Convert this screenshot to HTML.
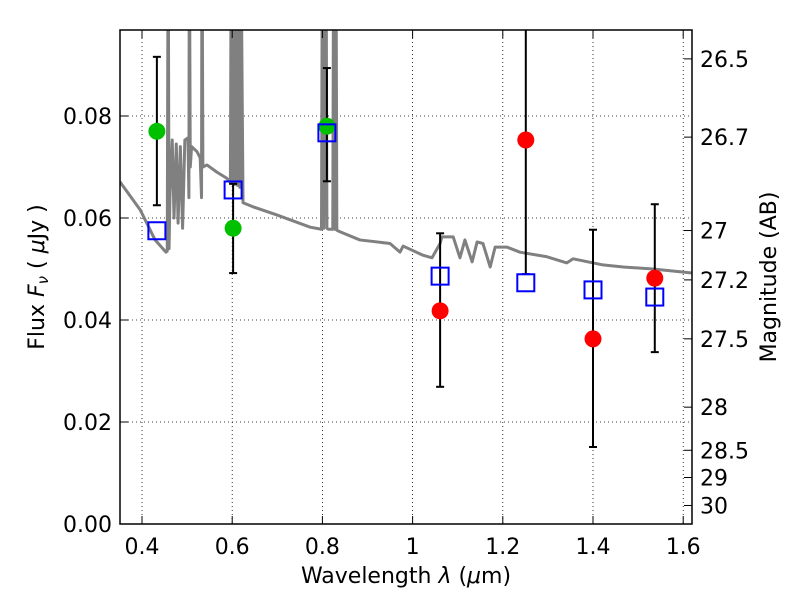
<!DOCTYPE html>
<html><head><meta charset="utf-8"><style>
body{margin:0;background:#fff;}
svg text{font-family:"DejaVu Sans","Liberation Sans",sans-serif;}
</style></head><body>
<svg id="c" width="800" height="600" xmlns="http://www.w3.org/2000/svg"></svg>
<script>
const xTicks=[0.4,0.6,0.8,1.0,1.2,1.4,1.6];
const xTickLabels=["0.4","0.6","0.8","1","1.2","1.4","1.6"];
const yTicks=[0,0.02,0.04,0.06,0.08];
const yTickLabels=["0.00","0.02","0.04","0.06","0.08"];
const magTicks=[26.5,26.7,27,27.2,27.5,28,28.5,29,30];
const magTickLabels=["26.5","26.7","27","27.2","27.5","28","28.5","29","30"];
const specLam=[0.351,0.396,0.429,0.453,0.456,0.458,0.460,0.462,0.467,0.471,0.476,0.480,0.485,0.490,0.495,0.502,0.504,0.505,0.507,0.510,0.522,0.529,0.532,0.533,0.535,0.544,0.566,0.588,0.596,0.598,0.600,0.604,0.606,0.609,0.612,0.615,0.617,0.619,0.624,0.646,0.699,0.773,0.798,0.800,0.803,0.808,0.810,0.813,0.823,0.825,0.828,0.830,0.832,0.839,0.883,0.950,0.972,0.979,1.023,1.043,1.061,1.065,1.090,1.105,1.116,1.132,1.143,1.156,1.172,1.183,1.209,1.238,1.298,1.342,1.356,1.422,1.467,1.533,1.622];
const specFlux=[0.0671,0.0616,0.0557,0.0533,0.0535,0.12,0.0540,0.0645,0.0753,0.0600,0.0745,0.0590,0.0740,0.0580,0.0753,0.0757,0.0640,0.12,0.0700,0.0740,0.0730,0.0718,0.0640,0.12,0.0700,0.0704,0.0690,0.0678,0.0670,0.12,0.0668,0.12,0.0666,0.12,0.0664,0.12,0.0660,0.12,0.0630,0.0622,0.0606,0.0582,0.0578,0.12,0.0580,0.12,0.0580,0.0578,0.0578,0.12,0.0578,0.12,0.0576,0.0573,0.0557,0.0550,0.0533,0.0545,0.0527,0.0522,0.0550,0.0563,0.0563,0.0522,0.0557,0.0514,0.0553,0.0550,0.0504,0.0543,0.0543,0.0533,0.0524,0.0512,0.0520,0.0508,0.0504,0.0500,0.0492];
const greenLam=[0.433,0.602,0.810];
const greenFlux=[0.077,0.058,0.078];
const greenErrHi=[0.0916,0.0667,0.0894];
const greenErrLo=[0.0625,0.0492,0.0672];
const redLam=[1.061,1.251,1.400,1.537];
const redFlux=[0.0418,0.0753,0.0363,0.0482];
const redErrHi=[0.057,0.11,0.0577,0.0627];
const redErrLo=[0.0269,0.049,0.0151,0.0337];
const modelLam=[0.433,0.602,0.810,1.061,1.251,1.400,1.537];
const modelFlux=[0.0575,0.0655,0.0767,0.0486,0.0473,0.0459,0.0445];

const L=120,R=692,T=30,B=524;
const X=v=>142+(v-0.4)*451;
const Y=v=>B-v*5100;
const magY=m=>Y(Math.pow(10,(23.9-m)/2.5));
const svg=document.getElementById('c');
const NS='http://www.w3.org/2000/svg';
function mk(tag,at,parent){const e=document.createElementNS(NS,tag);for(const k in at)e.setAttribute(k,at[k]);(parent||svg).appendChild(e);return e;}
const defs=mk('defs',{});const cp=mk('clipPath',{id:'clip'},defs);mk('rect',{x:L,y:T,width:R-L,height:B-T},cp);
xTicks.forEach(v=>{const g=mk('line',{x1:X(v),x2:X(v),y1:T,y2:B,stroke:'#000','stroke-width':0.8,'stroke-dasharray':'1,3'});

});
yTicks.forEach(v=>{const g=mk('line',{x1:L,x2:R,y1:Y(v),y2:Y(v),stroke:'#000','stroke-width':0.8,'stroke-dasharray':'1,3'});

});
const gp=mk('g',{'clip-path':'url(#clip)'});


const sp=mk('polyline',{points:specLam.map((l,i)=>X(l)+','+Y(specFlux[i])).join(' '),fill:'none',stroke:'#808080','stroke-width':3,'stroke-linejoin':'round'},gp);


function eb(lam,hi,lo,name){const x=X(lam);const g=mk('g',{'clip-path':'url(#clip)'});


mk('line',{x1:x,x2:x,y1:Y(hi),y2:Y(lo),stroke:'#000','stroke-width':2},g);
mk('line',{x1:x-4,x2:x+4,y1:Y(hi),y2:Y(hi),stroke:'#000','stroke-width':2},g);
mk('line',{x1:x-4,x2:x+4,y1:Y(lo),y2:Y(lo),stroke:'#000','stroke-width':2},g);}
greenLam.forEach((l,i)=>eb(l,greenErrHi[i],greenErrLo[i],'green-error-bar'));
redLam.forEach((l,i)=>eb(l,redErrHi[i],redErrLo[i],'red-error-bar'));
greenLam.forEach((l,i)=>{const c=mk('circle',{cx:X(l),cy:Y(greenFlux[i]),r:8.5,fill:'#00c000'});

});
redLam.forEach((l,i)=>{const c=mk('circle',{cx:X(l),cy:Y(redFlux[i]),r:8.5,fill:'#ff0000'});

});
modelLam.forEach((l,i)=>{const r=mk('rect',{x:X(l)-8.5,y:Y(modelFlux[i])-8.5,width:17,height:17,fill:'none',stroke:'#0000ff','stroke-width':2});

});
const fr=mk('rect',{x:L,y:T,width:R-L,height:B-T,fill:'none',stroke:'#000','stroke-width':1.5});


xTicks.forEach((v,i)=>{mk('line',{x1:X(v),x2:X(v),y1:B,y2:B-8,stroke:'#000'});mk('line',{x1:X(v),x2:X(v),y1:T,y2:T+8,stroke:'#000'});
const t=mk('text',{x:X(v),y:B+30,'font-size':22,'text-anchor':'middle'});t.textContent=xTickLabels[i];

});
yTicks.forEach((v,i)=>{mk('line',{x1:L,x2:L+8,y1:Y(v),y2:Y(v),stroke:'#000'});
const t=mk('text',{x:L-8,y:Y(v)+8,'font-size':22,'text-anchor':'end'});t.textContent=yTickLabels[i];

});
magTicks.forEach((m,i)=>{const y=magY(m);mk('line',{x1:R,x2:R-8,y1:y,y2:y,stroke:'#000'});
const t=mk('text',{x:R+8,y:y+8,'font-size':22});t.textContent=magTickLabels[i];

});
</script>
<svg width="800" height="600" style="position:absolute;left:0;top:0;pointer-events:none" xmlns="http://www.w3.org/2000/svg">
<text x="406" y="583" font-size="22" text-anchor="middle" font-family="DejaVu Sans, Liberation Sans, sans-serif">Wavelength  <tspan font-style="italic">λ</tspan> (<tspan font-style="italic">μ</tspan>m)</text>
<text transform="translate(44,277) rotate(-90)" font-size="22" text-anchor="middle" font-family="DejaVu Sans, Liberation Sans, sans-serif">Flux  <tspan font-style="italic">F</tspan><tspan font-style="italic" font-size="15" dy="4">ν</tspan><tspan dy="-4">  (  <tspan font-style="italic">μ</tspan>Jy )</tspan></text>
<text transform="translate(776,277) rotate(-90)" font-size="22" text-anchor="middle" font-family="DejaVu Sans, Liberation Sans, sans-serif">Magnitude (AB)</text>
</svg>
</body></html>
